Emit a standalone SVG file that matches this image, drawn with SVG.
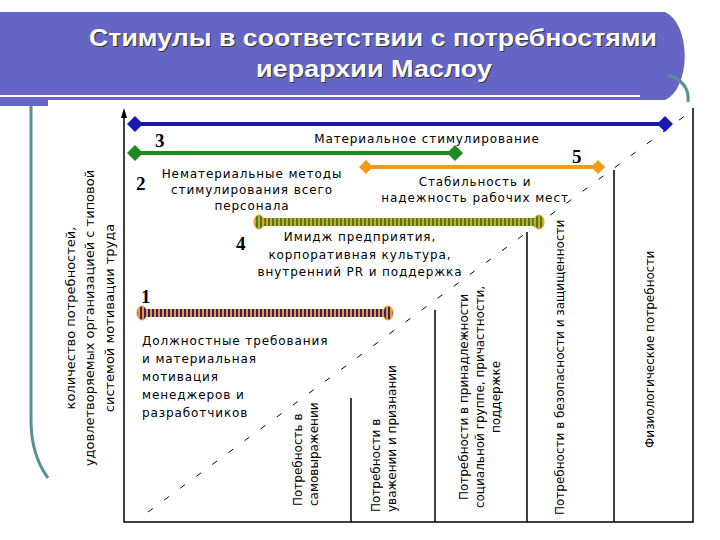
<svg xmlns="http://www.w3.org/2000/svg" width="720" height="540" viewBox="0 0 720 540">
<defs>
<style>
.t{font-family:"DejaVu Sans",Verdana,sans-serif;font-size:12px;fill:#000;letter-spacing:0.9px}
.r{font-family:"DejaVu Sans",Verdana,sans-serif;font-size:12px;fill:#000}
.n{font-family:"Liberation Serif",serif;font-size:19px;font-weight:bold;fill:#000}
.ttl{font-family:"Liberation Sans",Arial,sans-serif;font-size:24px;font-weight:bold;fill:#fff;text-anchor:middle}
.ax{stroke:#000;stroke-width:1.5;fill:none}
</style>
<pattern id="p4" width="4" height="8" patternUnits="userSpaceOnUse"><rect width="2" height="8" fill="#2a8a2a"/><rect x="2" width="2" height="8" fill="#f29a1a"/></pattern>
<pattern id="p1" width="4" height="8" patternUnits="userSpaceOnUse"><rect width="2" height="8" fill="#2a1f8f"/><rect x="2" width="2" height="8" fill="#f29a1a"/></pattern>
</defs>
<rect width="720" height="540" fill="#fff"/>
<g id="banner">
<path d="M0 12 H665 A25 45 0 0 1 665 100 H0 Z" fill="#6565c6"/>
<path d="M668 75 Q690 82 688 102" stroke="#5a8f94" stroke-width="3" fill="none"/>
<line x1="0" y1="96" x2="640" y2="96" stroke="#fff" stroke-width="2"/>
<rect x="0" y="100" width="48" height="6" fill="#6565c6"/>
<path d="M31 106 V420 Q31 455 48 478" stroke="#5a8f94" stroke-width="3" fill="none"/>
<text class="ttl" x="374" y="47" style="fill:#333" textLength="568" lengthAdjust="spacingAndGlyphs">Стимулы в соответствии с потребностями</text>
<text class="ttl" x="373" y="46" textLength="568" lengthAdjust="spacingAndGlyphs">Стимулы в соответствии с потребностями</text>
<text class="ttl" x="375" y="78" style="fill:#333" textLength="236" lengthAdjust="spacingAndGlyphs">иерархии Маслоу</text>
<text class="ttl" x="374" y="77" textLength="236" lengthAdjust="spacingAndGlyphs">иерархии Маслоу</text>
</g>
<g id="axes">
<path class="ax" d="M124 116 V522 H693 V108"/>
<path d="M124 108 L121 118 L127 118 Z" fill="#000"/>
<line x1="148" y1="512" x2="690" y2="112" stroke="#000" stroke-width="1" stroke-dasharray="6,14"/>
<line x1="351" y1="398" x2="351" y2="522" stroke="#000" stroke-width="1.5"/>
<line x1="435" y1="310" x2="435" y2="522" stroke="#000" stroke-width="1.5"/>
<line x1="527" y1="232" x2="527" y2="522" stroke="#000" stroke-width="1.5"/>
<line x1="614" y1="170" x2="614" y2="522" stroke="#000" stroke-width="1.5"/>
</g>
<g id="bar3">
<line x1="135" y1="124" x2="665" y2="124" stroke="#1a1ab0" stroke-width="4"/>
<path d="M135 116 L143 124 L135 132 L127 124 Z" fill="#1a1ab0"/>
<path d="M665 116 L673 124 L665 132 L657 124 Z" fill="#1a1ab0"/>
<text class="n" x="155" y="147">3</text>
<text class="t" x="427" y="143" text-anchor="middle">Материальное стимулирование</text>
</g>
<g id="bar2">
<line x1="135" y1="153" x2="455" y2="153" stroke="#1f8a1f" stroke-width="4"/>
<path d="M135 145 L143 153 L135 161 L127 153 Z" fill="#1f8a1f"/>
<path d="M455 145 L463 153 L455 161 L447 153 Z" fill="#1f8a1f"/>
<text class="n" x="136" y="190">2</text>
<text class="t" text-anchor="middle"><tspan x="252" y="178">Нематериальные методы</tspan><tspan x="252" y="194">стимулирования всего</tspan><tspan x="252" y="210">персонала</tspan></text>
</g>
<g id="bar5">
<line x1="366" y1="167" x2="598" y2="167" stroke="#f29a1a" stroke-width="4"/>
<path d="M366 160 L373 167 L366 174 L359 167 Z" fill="#f29a1a"/>
<path d="M598 160 L605 167 L598 174 L591 167 Z" fill="#f29a1a"/>
<text class="n" x="572" y="163">5</text>
<text class="t" text-anchor="middle"><tspan x="475" y="186">Стабильность и</tspan><tspan x="475" y="202">надежность рабочих мест</tspan></text>
</g>
<g id="bar4">
<rect x="257" y="218" width="284" height="8" fill="url(#p4)"/>
<ellipse cx="259" cy="222" rx="5" ry="7" fill="url(#p4)" stroke="#f29a1a"/>
<ellipse cx="539" cy="222" rx="5" ry="7" fill="url(#p4)" stroke="#f29a1a"/>
<text class="n" x="236" y="250">4</text>
<text class="t" text-anchor="middle"><tspan x="360" y="241">Имидж предприятия,</tspan><tspan x="360" y="259">корпоративная культура,</tspan><tspan x="360" y="276">внутренний PR и поддержка</tspan></text>
</g>
<g id="bar1">
<rect x="140" y="309" width="252" height="8" fill="url(#p1)"/>
<ellipse cx="142" cy="313" rx="5" ry="7" fill="url(#p1)" stroke="#f29a1a"/>
<ellipse cx="388" cy="313" rx="5" ry="7" fill="url(#p1)" stroke="#f29a1a"/>
<text class="n" x="141" y="303">1</text>
<text class="t"><tspan x="142" y="345">Должностные требования</tspan><tspan x="142" y="363">и материальная</tspan><tspan x="142" y="381">мотивация</tspan><tspan x="142" y="399">менеджеров и</tspan><tspan x="142" y="417">разработчиков</tspan></text>
</g>
<g id="labels">
<text class="r" style="font-size:13px" text-anchor="middle" transform="translate(102 318) rotate(-90)"><tspan x="0" y="-27">количество потребностей,</tspan><tspan x="0" y="-8">удовлетворяемых организацией с типовой</tspan><tspan x="0" y="12">системой мотивации труда</tspan></text>
<text class="r" transform="rotate(-90)"><tspan x="-506" y="302">Потребность в</tspan><tspan x="-506" y="318">самовыражении</tspan></text>
<text class="r" transform="rotate(-90)"><tspan x="-512" y="380">Потребности в</tspan><tspan x="-512" y="396">уважении и признании</tspan></text>
<text class="r" text-anchor="middle" transform="rotate(-90)"><tspan x="-397" y="468">Потребности в принадлежности</tspan><tspan x="-397" y="484">социальной группе, причастности,</tspan><tspan x="-397" y="500">поддержке</tspan></text>
<text class="r" transform="rotate(-90)"><tspan x="-515" y="564">Потребности в безопасности и защищенности</tspan></text>
<text class="r" transform="rotate(-90)"><tspan x="-448" y="654">Физиологические потребности</tspan></text>
</g>
</svg>
